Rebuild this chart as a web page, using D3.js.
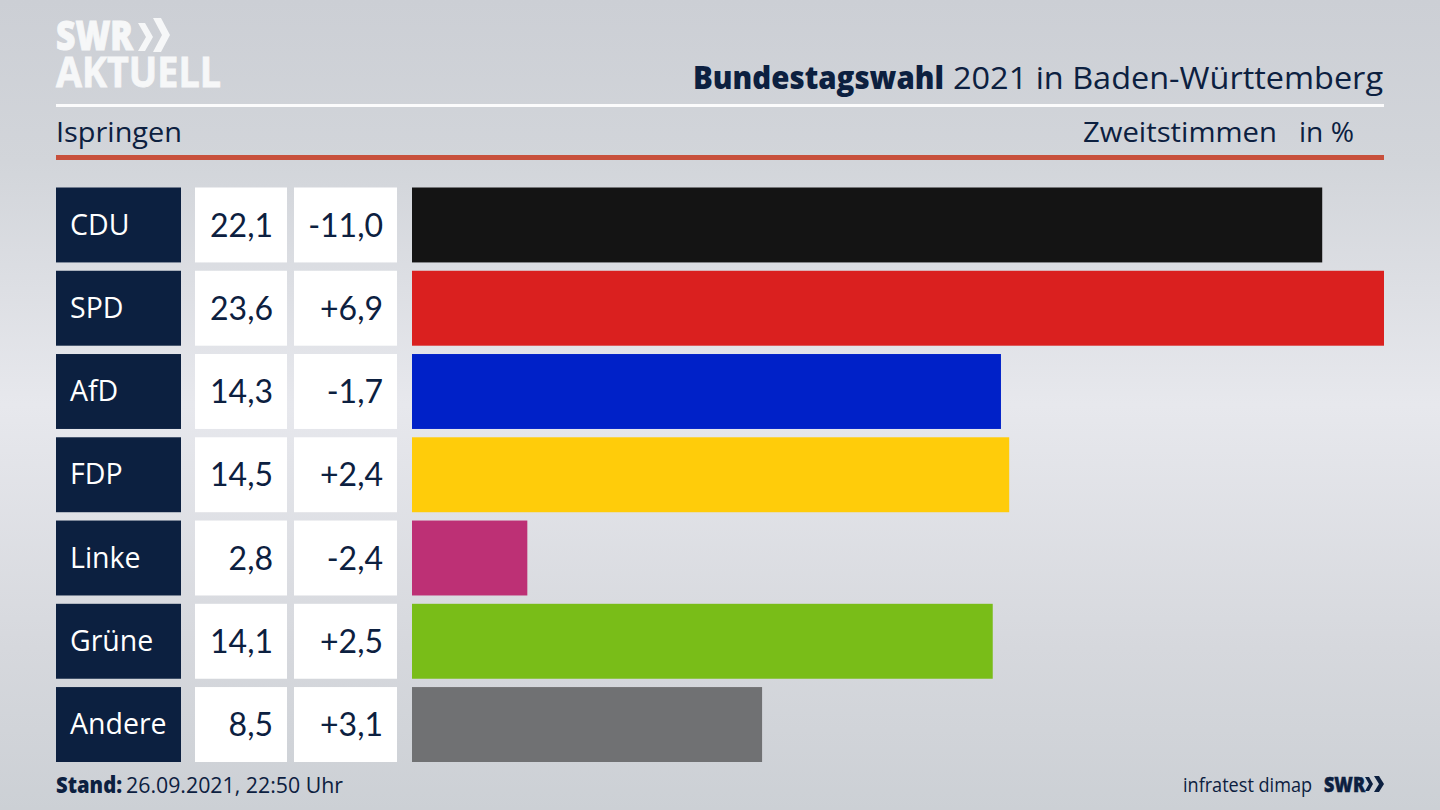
<!DOCTYPE html>
<html><head><meta charset="utf-8">
<script src="https://cdn.jsdelivr.net/npm/d3@7"></script>
<style>
html,body{margin:0;padding:0;background:#ced1d7;overflow:hidden}
svg{display:block}
text{font-family:"Open Sans","Noto Sans",sans-serif}
text.num{font-family:Lato,"Open Sans",sans-serif}
</style></head><body>
<svg id="c" width="1440" height="810"></svg>
<script>
const parties = ["CDU","SPD","AfD","FDP","Linke","Grüne","Andere"];
const shares = [22.1,23.6,14.3,14.5,2.8,14.1,8.5];
const changes = [-11.0,6.9,-1.7,2.4,-2.4,2.5,3.1];
const colors = ["#141414","#da201f","#0021c8","#ffcc0a","#bd3075","#79bd18","#707173"];

const navy = "#0c2040";
const de = d3.formatLocale({decimal:",",thousands:".",grouping:[3],currency:["","€"]});
const fmtShare = de.format(".1f");
const fmtChange = v => (v>0?"+":"-") + de.format(".1f")(Math.abs(v));

const svg = d3.select("#c");
const defs = svg.append("defs");
const grad = defs.append("linearGradient").attr("id","bg").attr("x1",0).attr("x2",0).attr("y1",0).attr("y2",1);
[[0,"#ccCfd5"],[0.2,"#d2d5da"],[0.5,"#e7e8ed"],[0.8,"#d6d8dd"],[1,"#ccd0d5"]].forEach(([o,c])=>grad.append("stop").attr("offset",o).attr("stop-color",c));
svg.append("rect").attr("width",1440).attr("height",810).attr("fill","url(#bg)");

const x = d3.scaleLinear().domain([0,23.6]).range([412,1384]);
const y = d3.scaleBand().domain(parties).range([187.5,762]).paddingInner(0.1).paddingOuter(0).align(0);
const yPos = d => y(d);
const bh = y.bandwidth();

function txt(t,xp,yp,size,anchor,fill,weight,len){
  const e = svg.append("text").attr("x",xp).attr("y",yp).attr("font-size",size)
    .attr("text-anchor",anchor||"start").attr("fill",fill||navy).attr("font-weight",weight||400).text(t);
  if(len) e.attr("textLength",len).attr("lengthAdjust","spacingAndGlyphs");
  return e;
}

// logo
txt("SWR",56,50,41,"start","#f6f7f8",800,77).attr("stroke","#f6f7f8").attr("stroke-width",1);
txt("AKTUELL",56,87,41,"start","#f6f7f8",700,165).attr("stroke","#f6f7f8").attr("stroke-width",0.8);
const chev = (x0,y0,h,w,t)=>`M${x0},${y0}L${x0+t},${y0}L${x0+t+w},${y0+h/2}L${x0+t},${y0+h}L${x0},${y0+h}L${x0+w},${y0+h/2}Z`;
svg.append("path").attr("d",chev(138,23,28,8,7)).attr("fill","#f6f7f8");
svg.append("path").attr("d",chev(153,18,34,9,8)).attr("fill","#f6f7f8");

// header
txt("Bundestagswahl",693,89,31,"start",navy,800,251);
txt("2021 in Baden-Württemberg",1383,89,31,"end",navy,400,430);
svg.append("rect").attr("x",56).attr("y",104).attr("width",1328).attr("height",3).attr("fill","#fbfbfc");
txt("Ispringen",56,142,28,"start",navy,400,126);
txt("Zweitstimmen",1277,142,28,"end",navy,400,194);
txt("in %",1354,142,28,"end",navy,400,55);
svg.append("rect").attr("x",56).attr("y",155).attr("width",1328).attr("height",5).attr("fill","#c8503c");

// rows
const rows = svg.append("g").selectAll("g").data(parties).join("g");
rows.append("rect").attr("x",56).attr("y",yPos).attr("width",125).attr("height",bh).attr("fill",navy);
rows.append("rect").attr("x",195).attr("y",yPos).attr("width",92).attr("height",bh).attr("fill","#fff");
rows.append("rect").attr("x",294).attr("y",yPos).attr("width",103).attr("height",bh).attr("fill","#fff");
rows.append("rect").attr("x",x(0)).attr("y",yPos).attr("height",bh)
  .attr("width",(d,i)=>x(shares[i])-x(0)).attr("fill",(d,i)=>colors[i]);
rows.append("text").attr("x",70).attr("y",d=>yPos(d)+47).attr("font-size",28.5).attr("fill","#fff").text(d=>d);
rows.append("text").attr("class","num").attr("x",273).attr("y",d=>yPos(d)+49).attr("font-size",32).attr("text-anchor","end").attr("fill",navy).text((d,i)=>fmtShare(shares[i]));
rows.append("text").attr("class","num").attr("x",383).attr("y",d=>yPos(d)+49).attr("font-size",32).attr("text-anchor","end").attr("fill",navy).text((d,i)=>fmtChange(changes[i]));

// footer
txt("Stand:",56,793,22,"start",navy,800,66);
txt("26.09.2021, 22:50 Uhr",343,793,22,"end",navy,400,217);
txt("infratest dimap",1312,792,20,"end",navy,400,129);
txt("SWR",1324,792,21,"start",navy,800,41).attr("stroke",navy).attr("stroke-width",0.5);
svg.append("path").attr("d",chev(1365,777,14,4,4)).attr("fill",navy);
svg.append("path").attr("d",chev(1374,776,16,5,5)).attr("fill",navy);
</script></body></html>
